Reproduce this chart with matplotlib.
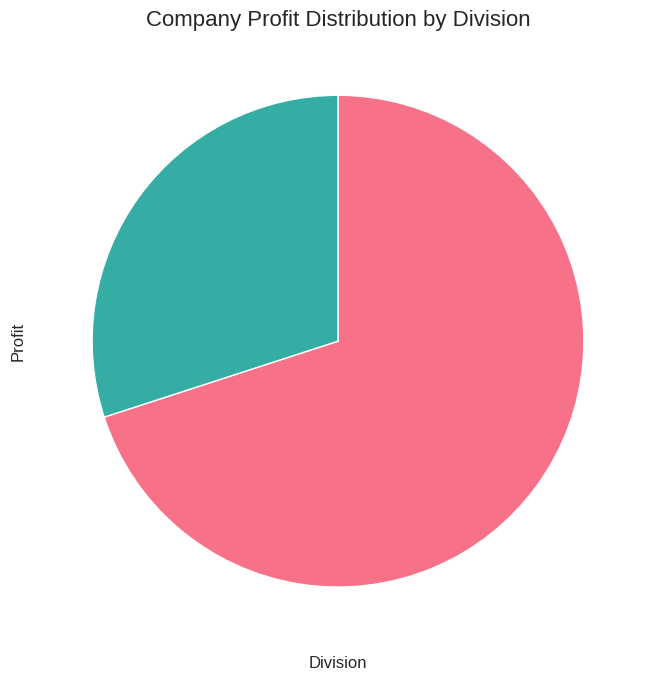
import matplotlib.pyplot as plt
import seaborn as sns

sns.set_theme(style="white")
plt.rcParams['font.family'] = ['Arial', 'Liberation Sans', 'DejaVu Sans']

divisions = ["Division A", "Division B"]
profit = [70, 30]
colors = sns.husl_palette(len(divisions))

fig = plt.figure(figsize=(6.56, 6.8), dpi=100)
ax = fig.add_axes([0.0465, 0.0463, 0.9375, 0.904])
ax.pie(profit, colors=colors, startangle=90, counterclock=False,
       wedgeprops=dict(edgecolor="white", linewidth=1))
ax.set_aspect("equal")
ax.set_title("Company Profit Distribution by Division", fontsize=16, pad=5.5)
ax.set_xlabel("Division", fontsize=12, labelpad=5.5)
ax.set_ylabel("Profit", fontsize=12, labelpad=3.5)

fig.savefig("out.png", dpi=100)
